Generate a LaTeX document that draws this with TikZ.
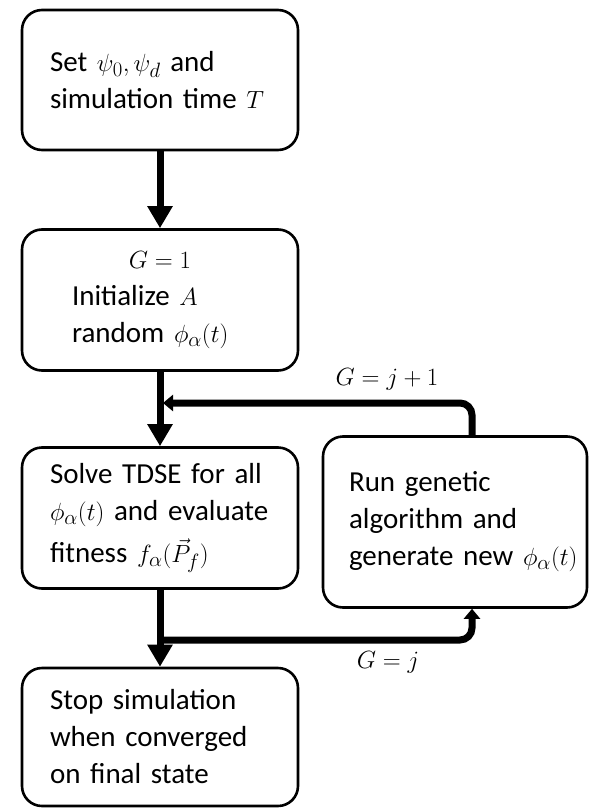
\documentclass[tikz,border=0pt]{standalone}
\usepackage{fontspec}
\setmainfont{Carlito}
\usetikzlibrary{arrows.meta,calc}
\begin{document}
\begin{tikzpicture}[x=1pt,y=-1pt,
  box/.style={draw, line width=2.6pt, rounded corners=20pt, inner xsep=28pt, inner ysep=0pt,
    align=left, font=\fontsize{29}{37}\selectfont},
  fat/.style={line width=7pt},
  bigtip/.style={-{Triangle[width=24pt,length=22pt]}},
  smalltip/.style={-{Triangle[width=16pt,length=10pt]}},
  lbl/.style={font=\fontsize{29}{34}\selectfont, inner sep=0pt}]
\useasboundingbox (0,0) rectangle (589,808);
\node[box, minimum width=276pt, minimum height=140pt, text width=220pt] (b1) at (160,80)
  {\mbox{Set $\psi_0,\psi_d$ and}\\\mbox{simulation time $T$}};
\node[box, minimum width=276pt, minimum height=141pt, text width=220pt] (b2) at (160,300)
  {\makebox[220pt]{$G=1$}\\\hspace*{22pt}\mbox{Initialize $A$}\\\hspace*{22pt}\mbox{random $\phi_\alpha(t)$}};
\node[box, minimum width=276pt, minimum height=141pt, text width=220pt] (b3) at (160,518)
  {\mbox{Solve TDSE for all}\\\mbox{$\phi_\alpha(t)$ and evaluate}\\[5pt]\mbox{fitness $f_\alpha(\vec{P}_f)$}};
\node[box, minimum width=264pt, minimum height=171pt, text width=212pt, inner xsep=26pt] (b4) at (455,522)
  {\mbox{Run genetic}\\\mbox{algorithm and}\\\mbox{generate new $\phi_\alpha(t)$}};
\node[box, minimum width=276pt, minimum height=138pt, text width=220pt] (b5) at (160,737)
  {\mbox{Stop simulation}\\\mbox{when converged}\\\mbox{on final state}};
\coordinate (j1) at (161,403);
\coordinate (j2) at (161,640);
\draw[fat, bigtip] (b1.south) -- (b2.north);
\draw[fat, bigtip] (b2.south) -- (b3.north);
\draw[fat, bigtip] (b3.south) -- (b5.north);
\draw[fat, smalltip, rounded corners=12pt] ([xshift=17pt]b4.north) |- ([xshift=2pt]j1);
\draw[fat, smalltip, rounded corners=12pt] (j2) -| ([xshift=17pt]b4.south);
\node[lbl] (l1) at (387,379) {$G=j+1$};
\node[lbl] (l2) at (388,662) {$G=j$};
\end{tikzpicture}
\end{document}
